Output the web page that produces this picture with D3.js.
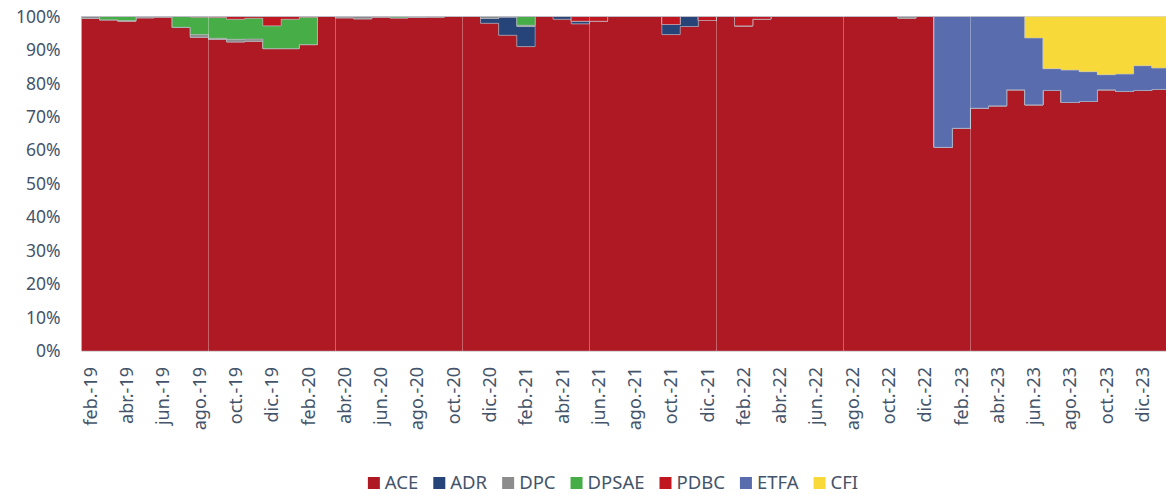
<!DOCTYPE html>
<html>
<head>
<meta charset="utf-8">
<script src="https://cdn.jsdelivr.net/npm/d3@7"></script>
<style>
  body { margin: 0; background: #fff; }
  #canvas { width: 1166px; height: 494px; }
  text { font-family: "Noto Sans", "Open Sans", sans-serif; fill: #44546A; }
</style>
</head>
<body>
<div id="canvas" class="canvas"></div>
<script>
//---- ---- DATA ---- ----
var months = [
  'feb.-19','mar.-19','abr.-19','may.-19','jun.-19','jul.-19','ago.-19','sep.-19','oct.-19','nov.-19','dic.-19',
  'ene.-20','feb.-20','mar.-20','abr.-20','may.-20','jun.-20','jul.-20','ago.-20','sep.-20','oct.-20','nov.-20','dic.-20',
  'ene.-21','feb.-21','mar.-21','abr.-21','may.-21','jun.-21','jul.-21','ago.-21','sep.-21','oct.-21','nov.-21','dic.-21',
  'ene.-22','feb.-22','mar.-22','abr.-22','may.-22','jun.-22','jul.-22','ago.-22','sep.-22','oct.-22','nov.-22','dic.-22',
  'ene.-23','feb.-23','mar.-23','abr.-23','may.-23','jun.-23','jul.-23','ago.-23','sep.-23','oct.-23','nov.-23','dic.-23',
  'ene.-24'
];

var seriesNames = ['ACE','ADR','DPC','DPSAE','PDBC','ETFA','CFI'];
var seriesColors = ['#AE1923','#264478','#8C8C8C','#47AD47','#BF1620','#586CAE','#F7DA3A'];

var ACE = [
  99.4, 99.0, 98.6, 99.6, 99.8, 96.7, 93.8, 93.2, 92.4, 92.6, 90.4,
  90.4, 91.6, 100, 99.6, 99.3, 99.8, 99.6, 99.7, 99.8, 100, 100, 97.9,
  94.4, 91.0, 100, 99.2, 97.8, 98.6, 100, 100, 100, 94.6, 97.0, 98.8,
  100, 97.2, 99.2, 100, 100, 100, 100, 100, 100, 100, 99.5, 100,
  60.9, 66.6, 72.6, 73.3, 78.1, 73.6, 77.9, 74.3, 74.6, 78.1, 77.6, 77.9,
  78.2
];
var ADR = [
  0, 0, 0, 0, 0, 0, 0, 0, 0, 0, 0,
  0, 0, 0, 0, 0, 0, 0, 0, 0, 0, 0, 1.4,
  5.4, 6.0, 0, 0.8, 0.8, 0, 0, 0, 0, 3.0, 3.0, 0,
  0, 0, 0, 0, 0, 0, 0, 0, 0, 0, 0, 0,
  0, 0, 0, 0, 0, 0, 0, 0, 0, 0, 0, 0,
  0
];
var DPC = [
  0.6, 0, 0.2, 0.4, 0.2, 0.1, 0.8, 0.3, 0.8, 0.7, 0,
  0, 0, 0, 0.4, 0.7, 0.2, 0, 0.3, 0.2, 0, 0, 0.6,
  0.2, 0.4, 0, 0, 0, 0, 0, 0, 0, 0, 0, 0,
  0, 0, 0, 0, 0, 0, 0, 0, 0, 0, 0.5, 0,
  0, 0, 0, 0, 0, 0, 0, 0, 0, 0, 0, 0,
  0
];
var DPSAE = [
  0, 1.0, 1.2, 0, 0, 3.2, 5.2, 6.2, 6.0, 6.2, 6.8,
  8.8, 8.2, 0, 0, 0, 0, 0.4, 0, 0, 0, 0, 0,
  0, 2.6, 0, 0, 0, 0, 0, 0, 0, 0, 0, 0,
  0, 0, 0, 0, 0, 0, 0, 0, 0, 0, 0, 0,
  0, 0, 0, 0, 0, 0, 0, 0, 0, 0, 0, 0,
  0
];
var PDBC = [
  0, 0, 0, 0, 0, 0, 0.2, 0.3, 0.8, 0.5, 2.8,
  0.8, 0.2, 0, 0, 0, 0, 0, 0, 0, 0, 0, 0,
  0, 0, 0, 0, 1.4, 1.4, 0, 0, 0, 2.4, 0, 1.2,
  0, 2.8, 0.8, 0, 0, 0, 0, 0, 0, 0, 0, 0,
  0, 0, 0, 0, 0, 0, 0, 0, 0, 0, 0, 0,
  0
];
var ETFA = [
  0, 0, 0, 0, 0, 0, 0, 0, 0, 0, 0,
  0, 0, 0, 0, 0, 0, 0, 0, 0, 0, 0, 0,
  0, 0, 0, 0, 0, 0, 0, 0, 0, 0, 0, 0,
  0, 0, 0, 0, 0, 0, 0, 0, 0, 0, 0, 0,
  39.1, 33.4, 27.4, 26.7, 21.9, 20.0, 6.5, 9.7, 8.9, 4.5, 5.2, 7.4,
  6.4
];
var CFI = [
  0, 0, 0, 0, 0, 0, 0, 0, 0, 0, 0,
  0, 0, 0, 0, 0, 0, 0, 0, 0, 0, 0, 0,
  0, 0, 0, 0, 0, 0, 0, 0, 0, 0, 0, 0,
  0, 0, 0, 0, 0, 0, 0, 0, 0, 0, 0, 0,
  0, 0, 0, 0, 0, 6.4, 15.6, 16.0, 16.5, 17.4, 17.2, 14.7,
  15.4
];

var yTicks = [0, 0.1, 0.2, 0.3, 0.4, 0.5, 0.6, 0.7, 0.8, 0.9, 1];

//---- ---- LAYOUT ---- ----
var W = 1166, H = 494;
var m = {t:16.5, l:81.5};
var bandW = 18.14;
var plotBottom = 351;

var svg = d3.select('.canvas')
  .append('svg')
  .attr('width', W)
  .attr('height', H);

//---- ---- TABLE ---- ----
var seriesData = [ACE, ADR, DPC, DPSAE, PDBC, ETFA, CFI];
var rows = months.map(function(mo, i){
  var r = {month: mo, i: i};
  seriesNames.forEach(function(s, k){ r[s] = seriesData[k][i]; });
  return r;
});

var stack = d3.stack()
  .keys(seriesNames)
  .offset(d3.stackOffsetExpand);
var layers = stack(rows);

//---- ---- SCALES ---- ----
var scaleX = d3.scaleBand()
  .domain(months)
  .range([m.l, m.l + months.length * bandW])
  .padding(0);

var scaleY = d3.scaleLinear()
  .domain([0, 1])
  .range([plotBottom, m.t]);

//---- ---- STEPPED AREAS ---- ----
var area = d3.area()
  .x(function(p){ return p.x; })
  .y0(function(p){ return scaleY(p.y0); })
  .y1(function(p){ return scaleY(p.y1); });

function steps(layer){
  var pts = [];
  layer.forEach(function(d){
    var x0 = scaleX(d.data.month);
    pts.push({x: x0, y0: d[0], y1: d[1]});
    pts.push({x: x0 + scaleX.bandwidth(), y0: d[0], y1: d[1]});
  });
  return pts;
}

var plot = svg.append('g').attr('class', 'plot');

plot.selectAll('path.layer')
  .data(layers)
  .enter()
  .append('path')
  .attr('class', 'layer')
  .attr('d', function(l){ return area(steps(l)); })
  .style('fill', function(l, k){ return seriesColors[k]; })
  .style('stroke', 'rgba(190,190,200,0.55)')
  .style('stroke-width', 0.8);

// light vertical gridlines every 7 months
var gridIdx = d3.range(7, 50, 7);
plot.selectAll('line.grid')
  .data(gridIdx)
  .enter()
  .append('line')
  .attr('class', 'grid')
  .attr('x1', function(i){ return Math.round(scaleX(months[i])) + 0.5; })
  .attr('x2', function(i){ return Math.round(scaleX(months[i])) + 0.5; })
  .attr('y1', scaleY(1))
  .attr('y2', scaleY(0))
  .style('stroke', 'rgba(255,255,255,0.32)')
  .style('stroke-width', 1);

// bottom axis line
svg.append('line')
  .attr('x1', m.l).attr('x2', W)
  .attr('y1', plotBottom + 0.5).attr('y2', plotBottom + 0.5)
  .style('stroke', '#D9D9D9');

//---- ---- AXES ---- ----
var axisY = d3.axisLeft(scaleY)
  .tickValues(yTicks)
  .tickFormat(d3.format('.0%'))
  .tickSize(0)
  .tickPadding(21);

var gy = svg.append('g').attr('class', 'axis axis-y')
  .attr('transform', 'translate(' + m.l + ',0)')
  .call(axisY);
gy.select('.domain').remove();
gy.selectAll('text')
  .style('font-size', '17.5px')
  .style('font-family', '"Noto Sans", sans-serif')
  .style('fill', '#44546A');

var axisX = d3.axisBottom(scaleX)
  .tickValues(months.filter(function(d, i){ return i % 2 === 0; }))
  .tickSize(0);

var gx = svg.append('g').attr('class', 'axis axis-x')
  .attr('transform', 'translate(0,' + plotBottom + ')')
  .call(axisX);
gx.select('.domain').remove();
gx.selectAll('text')
  .attr('y', 0)
  .attr('x', -16)
  .attr('dy', '0.35em')
  .attr('transform', 'rotate(-90)')
  .style('text-anchor', 'end')
  .style('font-size', '18px')
  .style('font-family', '"Noto Sans", sans-serif')
  .style('fill', '#44546A');

//---- ---- LEGEND ---- ----
var legend = svg.append('g').attr('class', 'legend');
var item = legend.selectAll('g.item')
  .data(seriesNames)
  .enter()
  .append('g')
  .attr('class', 'item');

item.append('rect')
  .attr('width', 12).attr('height', 12)
  .attr('y', -6)
  .style('fill', function(d, k){ return seriesColors[k]; });

item.append('text')
  .attr('x', 17)
  .attr('dy', '0.35em')
  .style('font-size', '18.5px')
  .text(function(d){ return d; });

var cursor = 0;
item.each(function(){
  var g = d3.select(this);
  g.attr('transform', 'translate(' + cursor + ',0)');
  cursor += 17 + g.select('text').node().getComputedTextLength() + 15;
});
cursor -= 15;
legend.attr('transform', 'translate(' + (613 - cursor / 2) + ',483)');
</script>
</body>
</html>
